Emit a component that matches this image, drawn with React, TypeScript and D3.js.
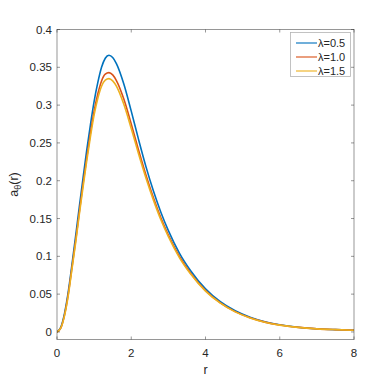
import React from 'react';
import * as d3 from 'd3';

// values
const radii = [0, 0.1, 0.2, 0.3, 0.4, 0.5, 0.6, 0.7, 0.8, 0.9, 1.0, 1.1, 1.2, 1.3, 1.4, 1.5, 1.6, 1.8, 2.0, 2.2, 2.4, 2.6, 2.8, 3.0, 3.3, 3.6, 4.0, 4.4, 4.8, 5.2, 5.6, 6.0, 6.5, 7.0, 7.5, 8.0];
const lambda05 = [0, 0.006, 0.024, 0.052, 0.088, 0.126, 0.165, 0.203, 0.240, 0.274, 0.305, 0.330, 0.350, 0.362, 0.366, 0.363, 0.355, 0.328, 0.292, 0.254, 0.218, 0.186, 0.158, 0.134, 0.104, 0.081, 0.057, 0.040, 0.028, 0.0195, 0.0135, 0.0095, 0.0062, 0.0042, 0.003, 0.0022];
const lambda10 = [0, 0.005, 0.022, 0.049, 0.084, 0.120, 0.158, 0.195, 0.230, 0.263, 0.292, 0.315, 0.332, 0.341, 0.343, 0.340, 0.3325, 0.308, 0.275, 0.240, 0.207, 0.177, 0.1505, 0.128, 0.0995, 0.0776, 0.0548, 0.0385, 0.0269, 0.0187, 0.013, 0.0091, 0.006, 0.0041, 0.003, 0.0022];
const lambda15 = [0, 0.005, 0.021, 0.047, 0.082, 0.117, 0.155, 0.191, 0.226, 0.258, 0.287, 0.309, 0.325, 0.333, 0.335, 0.332, 0.325, 0.301, 0.269, 0.235, 0.203, 0.174, 0.148, 0.126, 0.098, 0.0765, 0.054, 0.038, 0.0265, 0.0185, 0.0128, 0.009, 0.006, 0.0041, 0.003, 0.0022];
const seriesNames = ['λ=0.5', 'λ=1.0', 'λ=1.5'];
const colors = ['#0072BD', '#D95319', '#EDB120'];
const xTicks = [0, 2, 4, 6, 8];
const yTicks = [0, 0.05, 0.1, 0.15, 0.2, 0.25, 0.3, 0.35, 0.4];

const W = 392;
const H = 382;
const left = 57;
const right = 354;
const top = 29.5;
const bottom = 339.5;
const axisColor = '#262626';
const font = 'Liberation Sans, Arial, Helvetica, sans-serif';

export default function App() {
  const x = d3.scaleLinear().domain([0, 8]).range([left, right]);
  const y = d3.scaleLinear().domain([-0.01, 0.4]).range([bottom, top]);
  const all = [lambda05, lambda10, lambda15];

  const line = d3.line<number>()
    .x((d, i) => x(radii[i]))
    .y(d => y(d))
    .curve(d3.curveMonotoneX);

  const tick = 3;

  return (
    <svg width={W} height={H} style={{ position: 'absolute', left: 0, top: 0, background: '#fff' }}>
      <rect x={0} y={0} width={W} height={H} fill="#fff" />
      <defs>
        <clipPath id="plotclip">
          <rect x={left} y={top} width={right - left} height={bottom - top} />
        </clipPath>
      </defs>
      <g clipPath="url(#plotclip)">
        {all.map((s, i) => (
          <path key={i} d={line(s) || ''} fill="none" stroke={colors[i]} strokeWidth={1.6} />
        ))}
      </g>

      {/* box */}
      <rect x={left} y={top} width={right - left} height={bottom - top} fill="none" stroke={axisColor} strokeOpacity={0.6} strokeWidth={0.8} />

      {/* x ticks */}
      {xTicks.map(t => (
        <g key={'x' + t}>
          <line x1={x(t)} x2={x(t)} y1={bottom} y2={bottom - tick} stroke={axisColor} strokeOpacity={0.6} strokeWidth={0.8} />
          <line x1={x(t)} x2={x(t)} y1={top} y2={top + tick} stroke={axisColor} strokeOpacity={0.6} strokeWidth={0.8} />
          <text x={x(t)} y={356.5} textAnchor="middle" fontFamily={font} fontSize={11.5} fill={axisColor}>{t}</text>
        </g>
      ))}

      {/* y ticks */}
      {yTicks.map(t => (
        <g key={'y' + t}>
          <line x1={left} x2={left + tick} y1={y(t)} y2={y(t)} stroke={axisColor} strokeOpacity={0.6} strokeWidth={0.8} />
          <line x1={right} x2={right - tick} y1={y(t)} y2={y(t)} stroke={axisColor} strokeOpacity={0.6} strokeWidth={0.8} />
          <text x={52} y={y(t) + 4} textAnchor="end" fontFamily={font} fontSize={11.5} fill={axisColor}>{String(t)}</text>
        </g>
      ))}

      {/* axis labels */}
      <text x={(left + right) / 2} y={374} textAnchor="middle" fontFamily={font} fontSize={12.5} fill={axisColor}>r</text>
      <text transform={`translate(18,${(top + bottom) / 2}) rotate(-90)`} textAnchor="middle" fontFamily={font} fontSize={12.5} fill={axisColor}>
        a<tspan fontSize={9} dy={3}>θ</tspan><tspan dy={-3}>(r)</tspan>
      </text>

      {/* legend */}
      <rect x={290.5} y={32.5} width={60} height={44} fill="#fff" stroke={axisColor} strokeOpacity={0.35} strokeWidth={0.8} />
      {seriesNames.map((n, i) => (
        <g key={n}>
          <line x1={296} x2={317} y1={43 + i * 14} y2={43 + i * 14} stroke={colors[i]} strokeWidth={1.5} strokeOpacity={0.75} />
          <text x={318} y={47 + i * 14} fontFamily={font} fontSize={11} fill={axisColor}>{n}</text>
        </g>
      ))}
    </svg>
  );
}
